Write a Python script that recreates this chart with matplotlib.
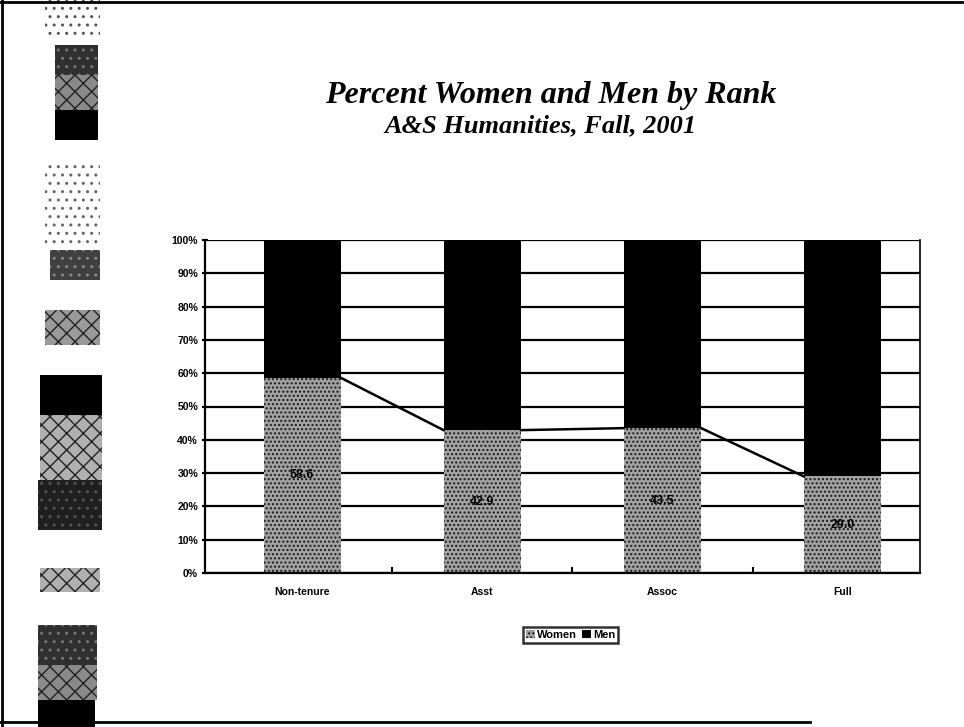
import numpy as np
import matplotlib
matplotlib.use("Agg")
import matplotlib.pyplot as plt
import matplotlib.patches as patch

# data
ranks = ["Non-tenure", "Asst", "Assoc", "Full"]
women = [58.6, 42.9, 43.5, 29.0]
men = [100 - w for w in women]
yticks = [0, 10, 20, 30, 40, 50, 60, 70, 80, 90, 100]

W, H = 964, 727
fig = plt.figure(figsize=(W / 100, H / 100), dpi=100)

def px_rect(x0, y0, x1, y1, **kw):
    # rectangle in image pixels (origin top-left)
    r = patch.Rectangle((x0 / W, 1 - y1 / H), (x1 - x0) / W, (y1 - y0) / H,
                        transform=fig.transFigure, **kw)
    fig.patches.append(r)

# frame of the scanned slide
fig.add_artist(plt.Line2D([0.002, 0.002], [0, 1], transform=fig.transFigure, color="black", lw=2))
fig.add_artist(plt.Line2D([0, 0.998], [0.997, 0.997], transform=fig.transFigure, color="black", lw=2))
fig.add_artist(plt.Line2D([0, 0.84], [0.007, 0.007], transform=fig.transFigure, color="black", lw=2))

# speckled strip down the left side
px_rect(45, 0, 100, 40, facecolor="white", hatch="..", edgecolor="#555555", lw=0)
px_rect(55, 45, 98, 75, facecolor="#303030", hatch="..", edgecolor="#777777", lw=0)
px_rect(55, 75, 98, 110, facecolor="#8a8a8a", hatch="xx", edgecolor="#222222", lw=0)
px_rect(55, 110, 98, 140, facecolor="black", lw=0)
px_rect(45, 160, 100, 245, facecolor="white", hatch="..", edgecolor="#666666", lw=0)
px_rect(50, 250, 100, 280, facecolor="#404040", hatch="..", edgecolor="#888888", lw=0)
px_rect(45, 310, 100, 345, facecolor="#9a9a9a", hatch="xx", edgecolor="#222222", lw=0)
px_rect(40, 375, 102, 415, facecolor="black", lw=0)
px_rect(40, 415, 102, 480, facecolor="#b0b0b0", hatch="xx", edgecolor="#222222", lw=0)
px_rect(38, 480, 102, 530, facecolor="#202020", hatch="..", edgecolor="#555555", lw=0)
px_rect(40, 568, 100, 592, facecolor="#b0b0b0", hatch="xx", edgecolor="#222222", lw=0)
px_rect(38, 625, 97, 665, facecolor="#303030", hatch="..", edgecolor="#777777", lw=0)
px_rect(38, 665, 97, 700, facecolor="#8a8a8a", hatch="xx", edgecolor="#222222", lw=0)
px_rect(38, 700, 95, 727, facecolor="black", lw=0)

# titles
fig.text(0.571, 1 - 96 / H, "Percent Women and Men by Rank", ha="center", va="center",
         family="Liberation Serif", weight="bold", style="italic", fontsize=23)
fig.text(0.561, 1 - 126 / H, "A&S Humanities, Fall, 2001", ha="center", va="center",
         family="Liberation Serif", weight="bold", style="italic", fontsize=19)

ax = fig.add_axes([205 / W, 1 - 573 / H, (920 - 205) / W, (573 - 240) / H])
x = np.arange(len(ranks))
bw = 0.43

ax.set_axisbelow(True)
ax.yaxis.grid(True, color="black", lw=1.6)
b1 = ax.bar(x, women, bw, color="#a2a2a2", hatch="....", edgecolor="#1a1a1a", lw=0, label="Women")
b2 = ax.bar(x, men, bw, bottom=women, color="black", lw=0, label="Men")

# series lines joining the women segments
for i in range(len(ranks) - 1):
    ax.plot([x[i] + bw / 2, x[i + 1] - bw / 2], [women[i], women[i + 1]], color="black", lw=1.8)

for i, w in enumerate(women):
    ax.text(x[i], w / 2, f"{w:.1f}", ha="center", va="center", fontsize=9,
            weight="bold", family="Liberation Sans", color="black")

ax.set_xlim(-0.54, 3.43)
ax.set_ylim(0, 100)
ax.set_yticks(yticks)
ax.set_yticklabels([f"{t}%" for t in yticks], fontsize=7.5, weight="bold", family="Liberation Sans")
ax.set_xticks(np.arange(0.5, 3, 1))
ax.set_xticklabels([])
ax.set_xticks(x, minor=True)
ax.set_xticklabels(ranks, minor=True, fontsize=7.5, weight="bold", family="Liberation Sans")
ax.tick_params(axis="x", which="minor", length=0, pad=10)
ax.tick_params(axis="x", which="major", length=4, width=1.5, direction="in")
ax.tick_params(axis="y", length=4, width=1.5, direction="inout", pad=3)
for s in ["top", "right"]:
    ax.spines[s].set_visible(False)
ax.spines["left"].set_linewidth(1.6)
ax.spines["bottom"].set_linewidth(1.6)
ax.plot([3.43, 3.43], [0, 100], color="black", lw=1.2, clip_on=False)

leg = fig.legend(handles=[b1, b2], loc="center", bbox_to_anchor=(0.592, 1 - 635 / H), ncol=2,
                 prop={"weight": "bold", "family": "Liberation Sans", "size": 8},
                 frameon=True, fancybox=False, handlelength=0.8, handleheight=0.8,
                 handletextpad=0.2, columnspacing=0.4, borderpad=0.25)
leg.get_frame().set_edgecolor("black")
leg.get_frame().set_linewidth(1.8)

fig.savefig("out.png", dpi=100)
